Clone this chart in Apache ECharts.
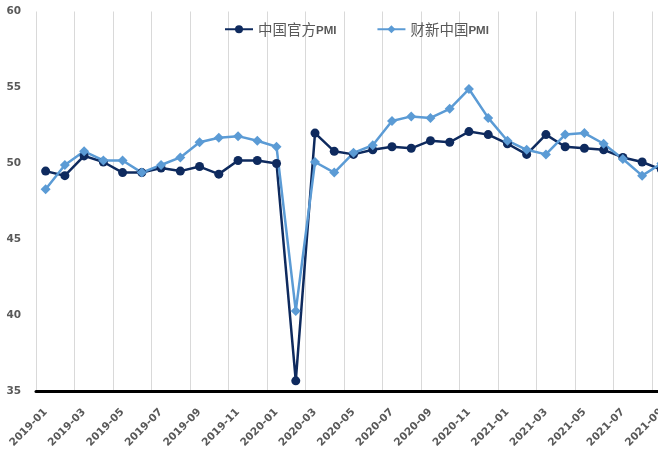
<!DOCTYPE html>
<html>
<head>
<meta charset="utf-8">
<script src="https://cdn.jsdelivr.net/npm/echarts@6/dist/echarts.min.js"></script>
<style>
  html, body { margin: 0; padding: 0; overflow: hidden; background: #fff; }
  #chart { width: 680px; height: 462px; }
</style>
</head>
<body>
<div id="chart"></div>
<script>
// Monthly manufacturing PMI, 2019-01 .. 2021-09
const months = [
  '2019-01','2019-02','2019-03','2019-04','2019-05','2019-06','2019-07','2019-08','2019-09','2019-10','2019-11','2019-12',
  '2020-01','2020-02','2020-03','2020-04','2020-05','2020-06','2020-07','2020-08','2020-09','2020-10','2020-11','2020-12',
  '2021-01','2021-02','2021-03','2021-04','2021-05','2021-06','2021-07','2021-08','2021-09'
];
const officialPMI = [
  49.5, 49.2, 50.5, 50.1, 49.4, 49.4, 49.7, 49.5, 49.8, 49.3, 50.2, 50.2,
  50.0, 35.7, 52.0, 50.8, 50.6, 50.9, 51.1, 51.0, 51.5, 51.4, 52.1, 51.9,
  51.3, 50.6, 51.9, 51.1, 51.0, 50.9, 50.4, 50.1, 49.6
];
const caixinPMI = [
  48.3, 49.9, 50.8, 50.2, 50.2, 49.4, 49.9, 50.4, 51.4, 51.7, 51.8, 51.5,
  51.1, 40.3, 50.1, 49.4, 50.7, 51.2, 52.8, 53.1, 53.0, 53.6, 54.9, 53.0,
  51.5, 50.9, 50.6, 51.9, 52.0, 51.3, 50.3, 49.2, 50.0
];
const seriesNames = ['中国官方PMI', '财新中国PMI'];
const yTicks = { min: 35, max: 60, step: 5 };

const darkBlue = '#0e2a5e';
const lightBlue = '#5b9bd5';
const labelGray = '#595959';
const tickFont = '"DejaVu Sans", sans-serif';

const chart = echarts.init(document.getElementById('chart'), null, { renderer: 'canvas' });
chart.setOption({
  animation: false,
  backgroundColor: '#ffffff',
  legend: {
    top: 17,
    left: 219,
    itemGap: 40,
    itemWidth: 28,
    itemHeight: 10,
    formatter: name => name.replace('PMI', '{b|PMI}'),
    textStyle: {
      color: labelGray,
      fontSize: 14.5,
      fontFamily: '"Noto Sans CJK SC", sans-serif',
      rich: {
        b: {
          color: labelGray,
          fontSize: 11.5,
          padding: [3, 0, 0, 0],
          fontWeight: 'bold',
          fontFamily: '"Liberation Sans", Arial, sans-serif'
        }
      }
    },
    data: seriesNames
  },
  grid: { left: 36, top: 11.5, width: 635, height: 380 },
  xAxis: {
    type: 'category',
    data: months,
    boundaryGap: true,
    axisLine: { show: true, lineStyle: { color: '#000000', width: 3 } },
    axisTick: { show: false },
    axisLabel: {
      interval: 1,
      rotate: 45,
      margin: 19,
      color: labelGray,
      fontSize: 10.5,
      fontWeight: 'bold',
      fontFamily: tickFont
    },
    splitLine: {
      show: true,
      interval: 1,
      lineStyle: { color: '#d9d9d9', width: 1 }
    }
  },
  yAxis: {
    type: 'value',
    min: yTicks.min,
    max: yTicks.max,
    interval: yTicks.step,
    axisLine: { show: false },
    axisTick: { show: false },
    splitLine: { show: false },
    axisLabel: {
      margin: 15,
      color: labelGray,
      fontSize: 10.5,
      fontWeight: 'bold',
      fontFamily: tickFont
    }
  },
  series: [
    {
      name: seriesNames[0],
      type: 'line',
      data: officialPMI,
      symbol: 'circle',
      symbolSize: 9,
      lineStyle: { color: darkBlue, width: 2.5 },
      itemStyle: { color: darkBlue }
    },
    {
      name: seriesNames[1],
      type: 'line',
      data: caixinPMI,
      symbol: 'diamond',
      symbolSize: 10,
      lineStyle: { color: lightBlue, width: 2.5 },
      itemStyle: { color: lightBlue }
    }
  ]
});
</script>
</body>
</html>
